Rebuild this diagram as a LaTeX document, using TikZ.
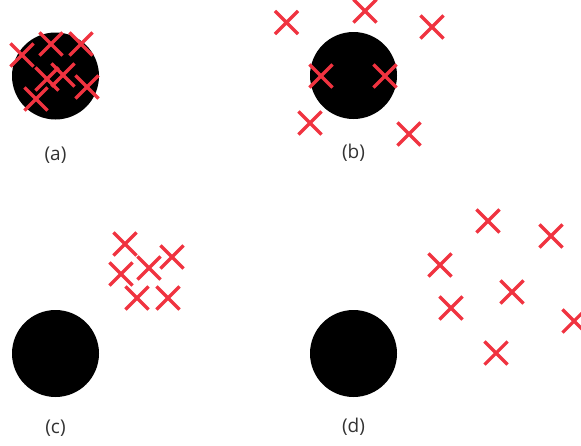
\documentclass[tikz,border=0pt]{standalone}
\usepackage{fontspec}
\setmainfont{Open Sans}
\usepackage{xcolor}
\usetikzlibrary{shapes.misc}
\definecolor{CrossRed}{HTML}{F03340}
\definecolor{LabelGray}{HTML}{333333}

\begin{document}
\begin{tikzpicture}[
  x=1pt,y=-1pt,
  disk/.style={circle,fill=black,minimum size=87pt,inner sep=0pt},
  crossmark/.style={cross out,draw=CrossRed,line width=3.2pt,minimum size=20pt,inner sep=0pt},
  caption/.style={font=\fontsize{19}{22}\selectfont,text=LabelGray,inner sep=0pt}
]
\useasboundingbox (0,0) rectangle (581,445);
\clip (0,0) rectangle (581,445);
% (a) all samples on the target
\node[disk] (diskA) at (55.5,76) {};
\foreach \n/\p in {1/{22,55},2/{51,44},3/{81,44},4/{47,79},5/{63,75},6/{87,87},7/{36,99}}
  \node[crossmark] (a\n) at (\p) {};
\node[caption] (capA) at (55.5,155) {(a)};
% (b) spread around the target
\node[disk] (diskB) at (353.5,75.5) {};
\foreach \n/\p in {1/{286.5,22.5},2/{365,11},3/{432,27},4/{321,76},5/{385,76},6/{310,123},7/{409,134}}
  \node[crossmark] (b\n) at (\p) {};
\node[caption] (capB) at (353.5,153) {(b)};
% (c) close together, off target
\node[disk] (diskC) at (55.5,353.5) {};
\foreach \n/\p in {1/{125,244},2/{172,257},3/{121,274},4/{149,268},5/{137,298},6/{168,298}}
  \node[crossmark] (c\n) at (\p) {};
\node[caption] (capC) at (55.5,428) {(c)};
% (d) spread out, off target
\node[disk] (diskD) at (353.5,353.5) {};
\foreach \n/\p in {1/{488,221},2/{551,236},3/{440,265},4/{512,292},5/{451,308},6/{574,321},7/{496,353}}
  \node[crossmark] (d\n) at (\p) {};
\node[caption] (capD) at (353.5,427) {(d)};
\end{tikzpicture}
\end{document}
